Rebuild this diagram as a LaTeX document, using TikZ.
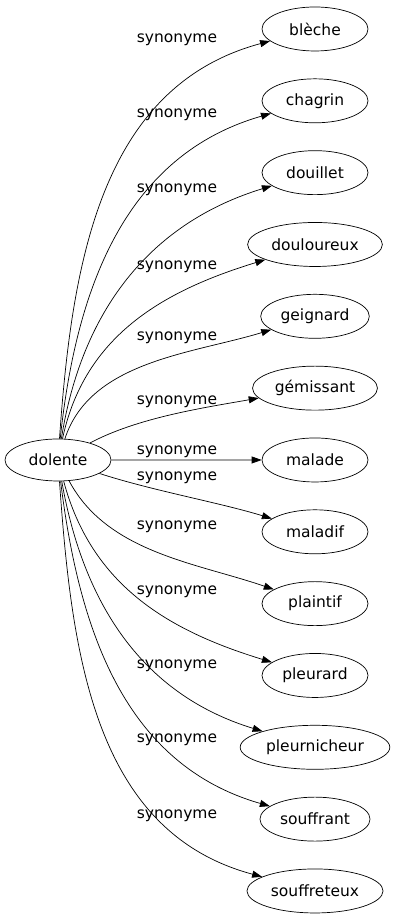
\documentclass[tikz,border=0pt]{standalone}
\usepackage{fontspec}
\setmainfont{DejaVu Sans}
\usetikzlibrary{arrows.meta,shapes.geometric}

\begin{document}
\begin{tikzpicture}[x=1pt,y=1pt,->,>={Triangle[length=10pt,width=7pt]},
  node distance=71.83pt,line width=0.7pt,
  font=\fontsize{15.5}{18}\selectfont,
  word node/.style={ellipse,draw,inner xsep=4pt,inner ysep=1pt,
    minimum width=106pt,minimum height=44pt},
  syn/.style={inner sep=0pt}]
  \useasboundingbox (0,0) rectangle (400,923);
  \node[word node,minimum height=42pt] (dolente) at (58,463) {dolente};
  \node[word node] (bleche) at (315,894) {blèche};
  \node[word node] (chagrin) [below of=bleche] {chagrin};
  \node[word node] (douillet) [below of=chagrin] {douillet};
  \node[word node] (douloureux) [below of=douillet] {douloureux};
  \node[word node] (geignard) [below of=douloureux] {geignard};
  \node[word node] (gemissant) [below of=geignard] {gémissant};
  \node[word node] (malade) [below of=gemissant] {malade};
  \node[word node] (maladif) [below of=malade] {maladif};
  \node[word node] (plaintif) [below of=maladif] {plaintif};
  \node[word node] (pleurard) [below of=plaintif] {pleurard};
  \node[word node] (pleurnicheur) [below of=pleurard] {pleurnicheur};
  \node[word node] (souffrant) [below of=pleurnicheur] {souffrant};
  \node[word node] (souffreteux) [below of=souffrant] {souffreteux};
  \path
    (dolente) edge [out=86,in=195] (bleche)
    (dolente) edge [out=84,in=196] (chagrin)
    (dolente) edge [out=81,in=197] (douillet)
    (dolente) edge [out=78,in=197] (douloureux)
    (dolente) edge [out=72,in=197,looseness=0.9] (geignard)
    (dolente) edge [out=28,in=190,looseness=0.8] (gemissant)
    (dolente) edge (malade)
    (dolente) edge [out=-18,in=163,looseness=0.8] (maladif)
    (dolente) edge [out=-62,in=161,looseness=0.9] (plaintif)
    (dolente) edge [out=-75,in=163] (pleurard)
    (dolente) edge [out=-80,in=163] (pleurnicheur)
    (dolente) edge [out=-83,in=164] (souffrant)
    (dolente) edge [out=-86,in=165] (souffreteux)
;
  % edge labels
  \node[syn] (s1) at (177,883) {synonyme};
  \node[syn] (s2) at (177,808) {synonyme};
  \node[syn] (s3) at (177,733) {synonyme};
  \node[syn] (s4) at (177,656) {synonyme};
  \node[syn] (s5) at (177,585) {synonyme};
  \node[syn] (s6) at (177,521) {synonyme};
  \node[syn] (s7) at (177,471) {synonyme};
  \node[syn] (s8) at (177,445) {synonyme};
  \node[syn] (s9) at (177,396) {synonyme};
  \node[syn] (s10) at (177,331) {synonyme};
  \node[syn] (s11) at (177,257) {synonyme};
  \node[syn] (s12) at (177,183) {synonyme};
  \node[syn] (s13) at (177,107) {synonyme};
\end{tikzpicture}
\end{document}
